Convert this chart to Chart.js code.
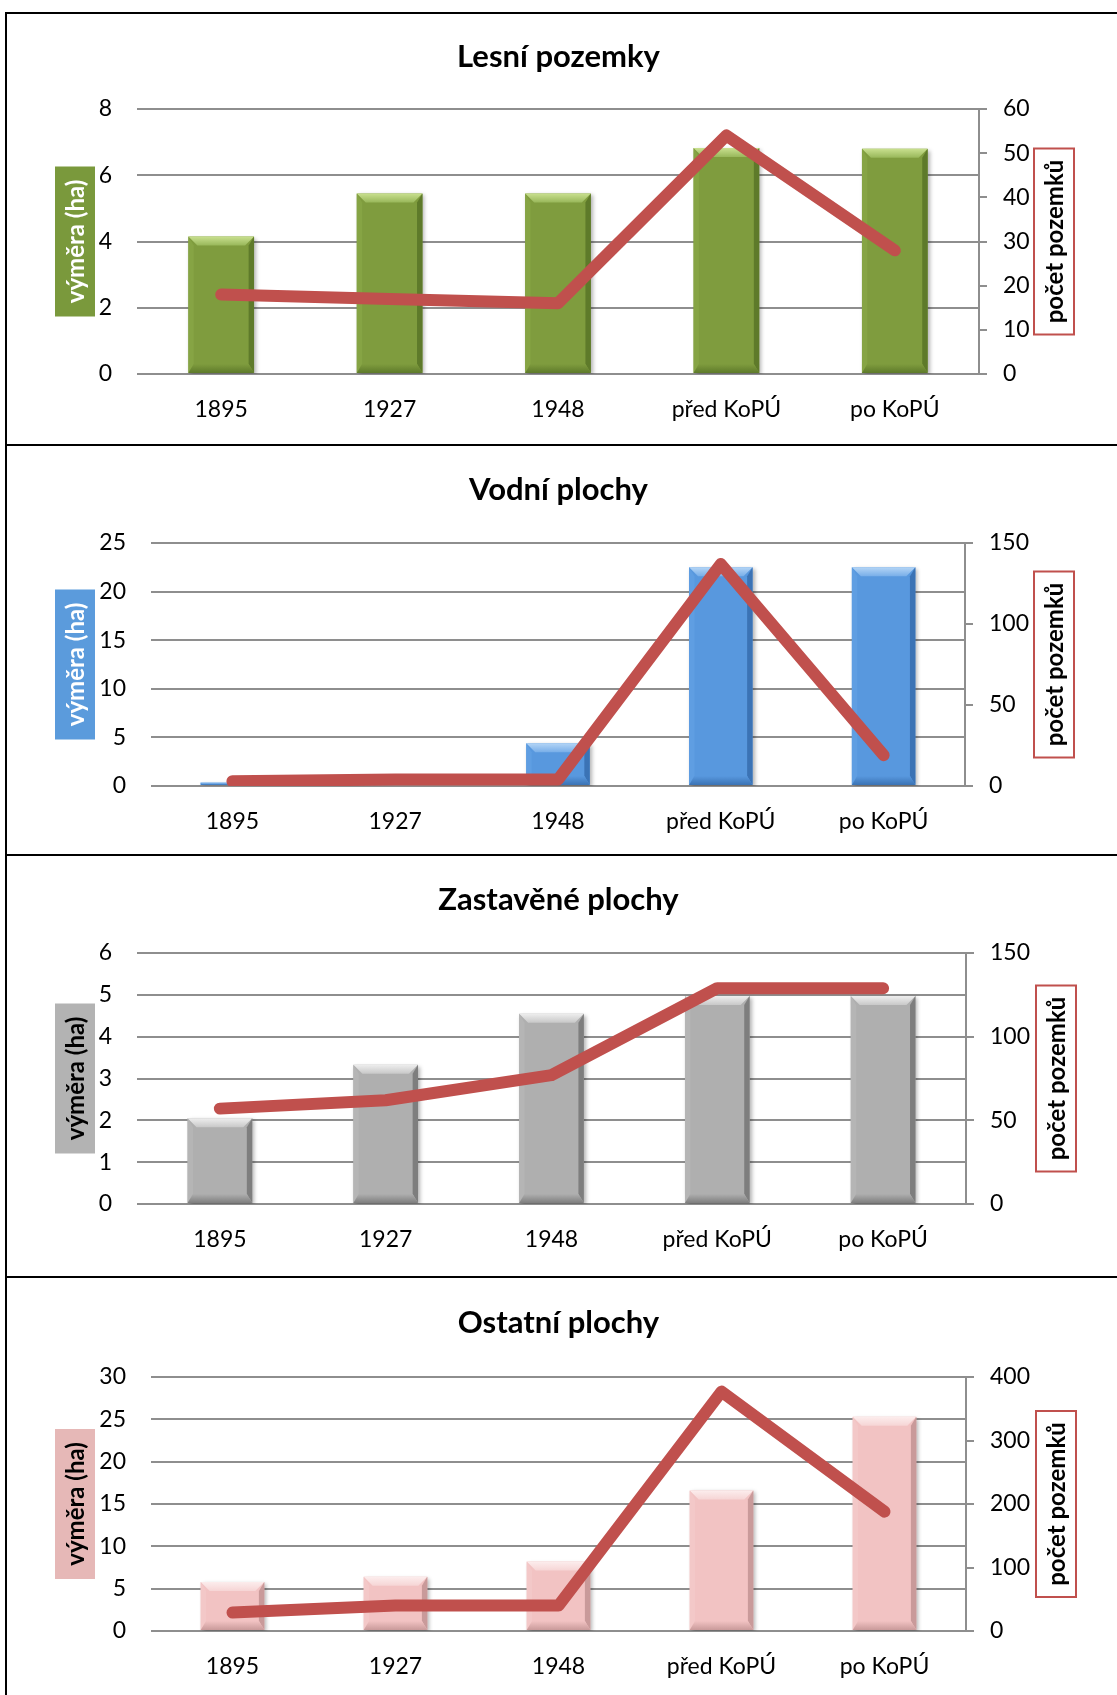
<!DOCTYPE html>
<html>
<head>
<meta charset="utf-8">
<script src="https://cdn.jsdelivr.net/npm/chart.js@4.4.1/dist/chart.umd.min.js"></script>
<style>
  body { margin: 0; background: #fff; }
  #page { position: relative; width: 1117px; height: 1695px; overflow: hidden; }
  canvas { position: absolute; left: 0; }
  .hl { position: absolute; left: 5px; right: 0; height: 2px; background: #000; }
  .vl { position: absolute; left: 5px; top: 12px; bottom: 0; width: 2px; background: #000; }
</style>
</head>
<body>
<div id="page">
  <canvas id="c1" width="1117" height="432" style="top:13px"></canvas>
  <canvas id="c2" width="1117" height="410" style="top:445px"></canvas>
  <canvas id="c3" width="1117" height="422" style="top:855px"></canvas>
  <canvas id="c4" width="1117" height="418" style="top:1277px"></canvas>
  <div class="hl" style="top:12px"></div>
  <div class="hl" style="top:444px"></div>
  <div class="hl" style="top:854px"></div>
  <div class="hl" style="top:1276px"></div>
  <div class="vl"></div>
</div>
<script>
// data
const categories = ['1895', '1927', '1948', 'před KoPÚ', 'po KoPÚ'];
const chartTitles = ['Lesní pozemky', 'Vodní plochy', 'Zastavěné plochy', 'Ostatní plochy'];
const leftAxisTitle = 'výměra (ha)';
const rightAxisTitle = 'počet pozemků';

const lesniArea = [4.15, 5.45, 5.45, 6.82, 6.8];
const lesniCount = [18, 17, 16, 54, 28];
const vodniArea = [0.35, 0, 4.4, 22.5, 22.5];
const vodniCount = [3, 4, 4, 137, 19];
const zastaveneArea = [2.05, 3.33, 4.55, 4.97, 4.97];
const zastaveneCount = [57, 62, 77, 129, 129];
const ostatniArea = [5.8, 6.4, 8.2, 16.6, 25.3];
const ostatniCount = [29, 40, 40, 377, 188];

const leftMax = [8, 25, 6, 30];
const leftStep = [2, 5, 1, 5];
const rightMax = [60, 150, 150, 400];
const rightStep = [10, 50, 50, 100];

const FONT = 'Lato, "Noto Sans", sans-serif';
const GRID = '#8e8e8e';
const LINE = '#C0504D';
const TICK_SIZE = 23;

function poly(ctx, pts, fill) {
  ctx.beginPath();
  ctx.moveTo(pts[0][0], pts[0][1]);
  for (let i = 1; i < pts.length; i++) ctx.lineTo(pts[i][0], pts[i][1]);
  ctx.closePath();
  ctx.fillStyle = fill;
  ctx.fill();
}

// soft shadow + bevel on the bars, drawn before the line goes on top
const bevelPlugin = {
  id: 'bevel',
  beforeDatasetDraw(chart, args) {
    if (args.meta.type !== 'bar') return;
    const ctx = chart.ctx;
    ctx.save();
    ctx.shadowColor = 'rgba(0,0,0,0.3)';
    ctx.shadowBlur = 4;
    ctx.shadowOffsetX = 2;
    ctx.shadowOffsetY = 2;
  },
  afterDatasetDraw(chart, args, opts) {
    if (args.meta.type !== 'bar') return;
    const ctx = chart.ctx;
    ctx.restore();
    args.meta.data.forEach(bar => {
      const p = bar.getProps(['x', 'y', 'base', 'width'], true);
      const l = p.x - p.width / 2, r = p.x + p.width / 2;
      const t = Math.min(p.y, p.base), b = Math.max(p.y, p.base);
      const h = b - t;
      if (h < 2) return;
      const s = Math.min(9, h / 2);
      const g = ctx.createLinearGradient(0, t, 0, t + s);
      g.addColorStop(0, opts.light);
      g.addColorStop(1, opts.mid);
      ctx.save();
      poly(ctx, [[l, t], [r, t], [r - s, t + s], [l + s, t + s]], g);
      poly(ctx, [[l, t], [l + s * 0.6, t + s], [l + s * 0.6, b - s], [l, b]], opts.side);
      poly(ctx, [[r, t], [r - s * 0.6, t + s], [r - s * 0.6, b - s], [r, b]], opts.dark);
      const g2 = ctx.createLinearGradient(0, b - s, 0, b);
      g2.addColorStop(0, opts.base);
      g2.addColorStop(1, opts.dark);
      poly(ctx, [[l, b], [r, b], [r - s * 0.6, b - s], [l + s * 0.6, b - s]], g2);
      ctx.restore();
    });
  }
};

// axis titles in coloured boxes
const boxTitles = {
  id: 'boxTitles',
  afterDraw(chart, args, o) {
    const ctx = chart.ctx;
    const a = chart.chartArea;
    const cy = (a.top + a.bottom) / 2;
    ctx.save();
    ctx.font = 'bold 24px ' + FONT;
    ctx.textAlign = 'center';
    ctx.textBaseline = 'middle';

    ctx.fillStyle = o.leftBg;
    ctx.fillRect(o.leftX, cy - 75, 40, 150);
    ctx.save();
    ctx.translate(o.leftX + 20, cy);
    ctx.rotate(-Math.PI / 2);
    ctx.fillStyle = o.leftColor;
    ctx.fillText(leftAxisTitle, 0, 1);
    ctx.restore();

    ctx.fillStyle = '#fff';
    ctx.fillRect(o.rightX, cy - 93, 40, 186);
    ctx.strokeStyle = LINE;
    ctx.lineWidth = 2;
    ctx.strokeRect(o.rightX, cy - 93, 40, 186);
    ctx.translate(o.rightX + 20, cy);
    ctx.rotate(-Math.PI / 2);
    ctx.fillStyle = '#000';
    ctx.fillText(rightAxisTitle, 0, 1);
    ctx.restore();
  }
};

function makeChart(id, i, area, count, L, bevel, box) {
  const canvas = document.getElementById(id);
  return new Chart(canvas, {
    data: {
      labels: categories,
      datasets: [
        {
          type: 'line',
          data: count,
          yAxisID: 'y1',
          borderColor: LINE,
          borderWidth: 12,
          borderCapStyle: 'round',
          borderJoinStyle: 'round',
          pointRadius: 0,
          tension: 0,
          order: 0
        },
        {
          type: 'bar',
          data: area,
          yAxisID: 'y',
          backgroundColor: bevel.base,
          categoryPercentage: 1,
          barPercentage: 0.39,
          order: 1
        }
      ]
    },
    options: {
      responsive: false,
      animation: false,
      layout: { padding: 0 },
      plugins: {
        legend: { display: false },
        tooltip: { enabled: false },
        title: {
          display: true,
          text: chartTitles[i],
          color: '#000',
          font: { family: FONT, size: 31, weight: 'bold', lineHeight: 1.2 },
          padding: { top: L.titleY - 18.6, bottom: L.top - (L.titleY - 18.6) - 37.2 }
        },
        bevel: bevel,
        boxTitles: box
      },
      scales: {
        x: {
          type: 'category',
          offset: true,
          grid: { display: false },
          border: { display: false },
          ticks: { color: '#000', padding: 14, maxRotation: 0, font: { family: FONT, size: TICK_SIZE } },
          afterFit(s) { s.height = L.bottom; }
        },
        y: {
          position: 'left',
          min: 0,
          max: leftMax[i],
          border: { display: false },
          grid: { color: GRID, lineWidth: 2, drawTicks: false },
          ticks: { stepSize: leftStep[i], color: '#000', padding: 25, font: { family: FONT, size: TICK_SIZE } },
          afterFit(s) { s.width = L.left; }
        },
        y1: {
          position: 'right',
          min: 0,
          max: rightMax[i],
          border: { display: true, color: GRID, width: 2 },
          grid: { drawOnChartArea: false, color: GRID, lineWidth: 2, tickLength: 8 },
          ticks: { stepSize: rightStep[i], color: '#000', padding: 16, font: { family: FONT, size: TICK_SIZE } },
          afterFit(s) { s.width = L.right; }
        }
      }
    },
    plugins: [bevelPlugin, boxTitles]
  });
}

makeChart('c1', 0, lesniArea, lesniCount,
  { titleY: 44, top: 96, bottom: 71, left: 137, right: 138 },
  { base: '#7F9C3E', mid: '#98B75A', light: '#C9E08F', side: '#86A444', dark: '#5E7A2A' },
  { leftX: 55, leftBg: '#7A993C', leftColor: '#fff', rightX: 1034 });

makeChart('c2', 1, vodniArea, vodniCount,
  { titleY: 45, top: 98, bottom: 69, left: 151, right: 152 },
  { base: '#5898DE', mid: '#78AEE8', light: '#B4D5F6', side: '#5F9EE2', dark: '#3B73B5' },
  { leftX: 55, leftBg: '#5B9BDC', leftColor: '#fff', rightX: 1034 });

makeChart('c3', 2, zastaveneArea, zastaveneCount,
  { titleY: 45, top: 98, bottom: 73, left: 137, right: 151 },
  { base: '#AFAFAF', mid: '#C8C8C8', light: '#EEEEEE', side: '#B5B5B5', dark: '#7E7E7E' },
  { leftX: 55, leftBg: '#B3B3B3', leftColor: '#000', rightX: 1036 });

makeChart('c4', 3, ostatniArea, ostatniCount,
  { titleY: 46, top: 100, bottom: 64, left: 151, right: 151 },
  { base: '#F2C3C3', mid: '#F6D5D5', light: '#FCEDED', side: '#F3C8C8', dark: '#C99A9A' },
  { leftX: 55, leftBg: '#E6B8B7', leftColor: '#000', rightX: 1036 });
</script>
</body>
</html>
